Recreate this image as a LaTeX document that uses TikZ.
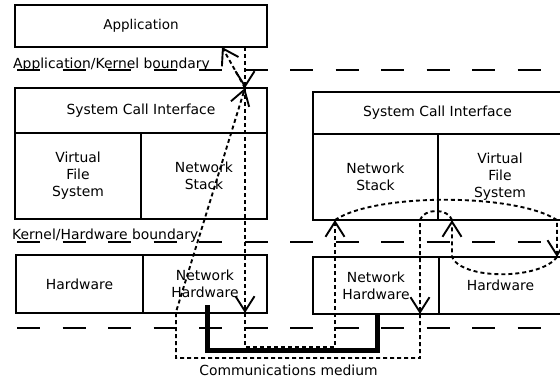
\documentclass[tikz,border=0pt]{standalone}
\usepackage{fontspec}
\setmainfont{DejaVu Sans}
\usetikzlibrary{arrows.meta,calc}
\begin{document}
\begin{tikzpicture}[x=1pt,y=-1pt,
  box/.style={draw, line width=1.9pt, inner sep=0pt, outer sep=0pt, anchor=north west, align=center, font=\fontsize{13.9}{17}\selectfont},
  flow/.style={line width=1.9pt, dash pattern=on 4pt off 3pt, -{Straight Barb[length=15pt,width=19pt]}},
  bound/.style={line width=2pt, dash pattern=on 23pt off 22.5pt},
  medium/.style={line width=5pt},
  lbl/.style={inner sep=0pt, font=\fontsize{13.9}{17}\selectfont}]
\useasboundingbox (0,0) rectangle (560,381);
\clip (0,0) rectangle (560,381);
\fill[white] (0,0) rectangle (560,381);

% boundaries
\draw[bound] (17,70) -- (580,70);
\draw[bound] (17,242) -- (580,242);
\draw[bound] (17,328) -- (580,328);
\node[lbl, anchor=base west] (akb) at (13,68.5) {Application/Kernel boundary};
\node[lbl, anchor=base west] (khb) at (12,239.5) {Kernel/Hardware boundary};

% left column
\node[box, minimum width=252pt, minimum height=42pt, font=\fontsize{13.5}{17}\selectfont] (app) at (15,5) {Application};
\node[box, minimum width=252pt, minimum height=45pt] (sciL) at (15,88) {System Call Interface};
\node[box, minimum width=126pt, minimum height=86pt] (vfsL) at (15,133) {Virtual\\File\\System};
\node[box, minimum width=126pt, minimum height=86pt] (nsL) at (141,133) {Network\\Stack};
\node[box, minimum width=127pt, minimum height=58pt] (hwL) at (16,255) {Hardware};
\node[box, minimum width=124pt, minimum height=58pt] (nhL) at (143,255) {Network\\Hardware};

% right column
\node[box, minimum width=249pt, minimum height=42pt] (sciR) at (313,92) {System Call Interface};
\node[box, minimum width=125pt, minimum height=86pt] (nsR) at (313,134) {Network\\Stack};
\node[box, minimum width=124pt, minimum height=86pt] (vfsR) at (438,134) {Virtual\\File\\System};
\node[box, minimum width=126pt, minimum height=57pt] (nhR) at (313,257) {Network\\Hardware};
\node[box, minimum width=123pt, minimum height=57pt] (hwR) at (439,257) {Hardware};

% communications medium
\coordinate (m0) at (207,305);
\coordinate (m1) at (207,350.5);
\coordinate (m2) at (377,350.5);
\draw[medium] (m0) -- (m1) -- (m2) -- (nhR.south -| m2);
\node[lbl] (cm) at (288.5,370) {Communications medium};

% path A
\coordinate (xA) at (245,0);
\coordinate (a1) at (245,347);
\coordinate (a2) at (335,347);
\draw[flow] (app.south -| xA) -- (sciL.north -| xA);
\draw[flow] (sciL.north -| xA) -- (nhL.south -| xA);
\draw[flow] (nhL.south -| xA) -- (a1) -- (a2) -- (nsR.south -| a2);

% path B
\coordinate (b1) at (557,0);
\coordinate (b2) at (452,0);
\coordinate (b3) at (420,0);
\coordinate (b4) at (420,358);
\coordinate (b5) at (176,358);
\coordinate (b6) at (176,312);
\coordinate (b7) at (222,0);
\draw[flow] (nsR.south -| a2) .. controls (375,193) and (515,193) .. (vfsR.south -| b1) -- (hwR.north -| b1);
\draw[flow] (hwR.north -| b1) .. controls (540,280) and (462,280) .. (hwR.north -| b2) -- (vfsR.south -| b2);
\draw[flow] (vfsR.south -| b2) .. controls (448,208) and (424,208) .. (vfsR.south -| b3) -- (nhR.south -| b3);
\draw[flow] (nhR.south -| b3) -- (b4) -- (b5) -- (b6) -- (sciL.north -| xA);
\draw[flow] (sciL.north -| xA) -- (app.south -| b7);
\end{tikzpicture}
\end{document}
